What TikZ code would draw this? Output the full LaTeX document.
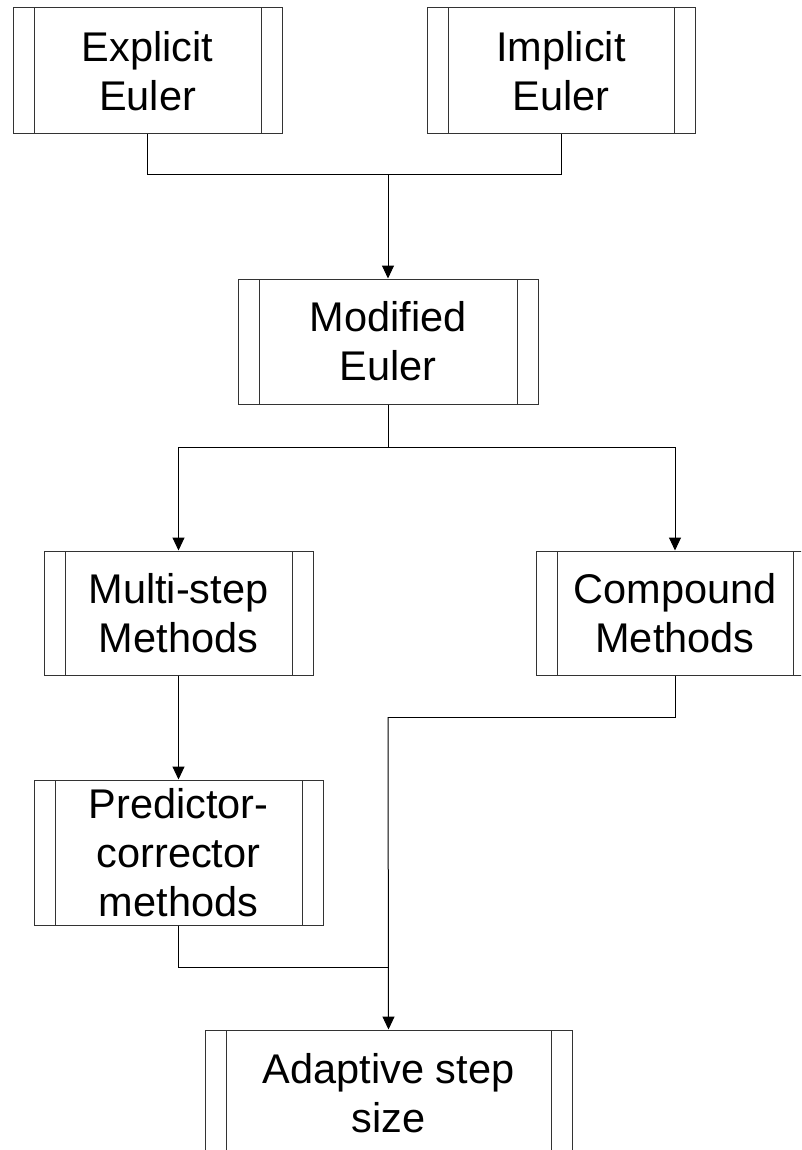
\documentclass[tikz,border=0pt]{standalone}
\usepackage{fontspec}
\setmainfont{Liberation Sans}
\usetikzlibrary{arrows.meta}
\begin{document}
\begin{tikzpicture}[x=1pt,y=-1pt,
  procbox/.style={draw=black!80, line width=1pt, fill=white, inner sep=0pt, align=center,
    font=\fontsize{41.5}{49}\selectfont,
    path picture={
      \draw[black!80, line width=1pt] ([xshift=21pt]path picture bounding box.north west) -- ([xshift=21pt]path picture bounding box.south west);
      \draw[black!80, line width=1pt] ([xshift=-21pt]path picture bounding box.north east) -- ([xshift=-21pt]path picture bounding box.south east);
    }},
  conn/.style={draw=black, line width=1pt},
  arr/.style={conn, -{Triangle[length=13pt,width=12pt]}}
]
\clip (0,0) rectangle (801,1150);
\fill[white] (0,0) rectangle (801,1150);

\node[procbox, minimum width=269pt, minimum height=126pt] (E) at (147.5,71) {Explicit\\Euler};
\node[procbox, minimum width=268pt, minimum height=126pt] (I) at (561,71) {Implicit\\Euler};
\node[procbox, minimum width=300pt, minimum height=125pt] (M) at (388,341.5) {Modified\\Euler};
\node[procbox, minimum width=269pt, minimum height=124pt] (MS) at (178.5,613) {Multi-step\\Methods};
\node[procbox, minimum width=278pt, minimum height=124pt] (C) at (675,613) {Compound\\Methods};
\node[procbox, minimum width=289pt, minimum height=145pt] (P) at (178.5,852.5) {Predictor-\\corrector\\methods};
\node[procbox, minimum width=367pt, minimum height=126pt] (A) at (388.5,1093) {Adaptive step\\size};

\coordinate (j1) at (388,175);
\coordinate (j2) at (388,447);
\coordinate (j3) at (388,717);
\coordinate (j4) at (388,967);

\draw[conn] (E.south) |- (j1);
\draw[conn] (I.south) |- (j1);
\draw[arr] (j1) -- (M.north);
\draw[conn] (M.south) -- (j2);
\draw[arr] (j2) -| (MS.north);
\draw[arr] (j2) -| (C.north);
\draw[arr] (MS.south) -- (P.north);
\draw[conn] (C.south) |- (j3);
\draw[conn] (P.south) |- (j4);
\draw[arr] (j3) -- (A.north);
\end{tikzpicture}
\end{document}
